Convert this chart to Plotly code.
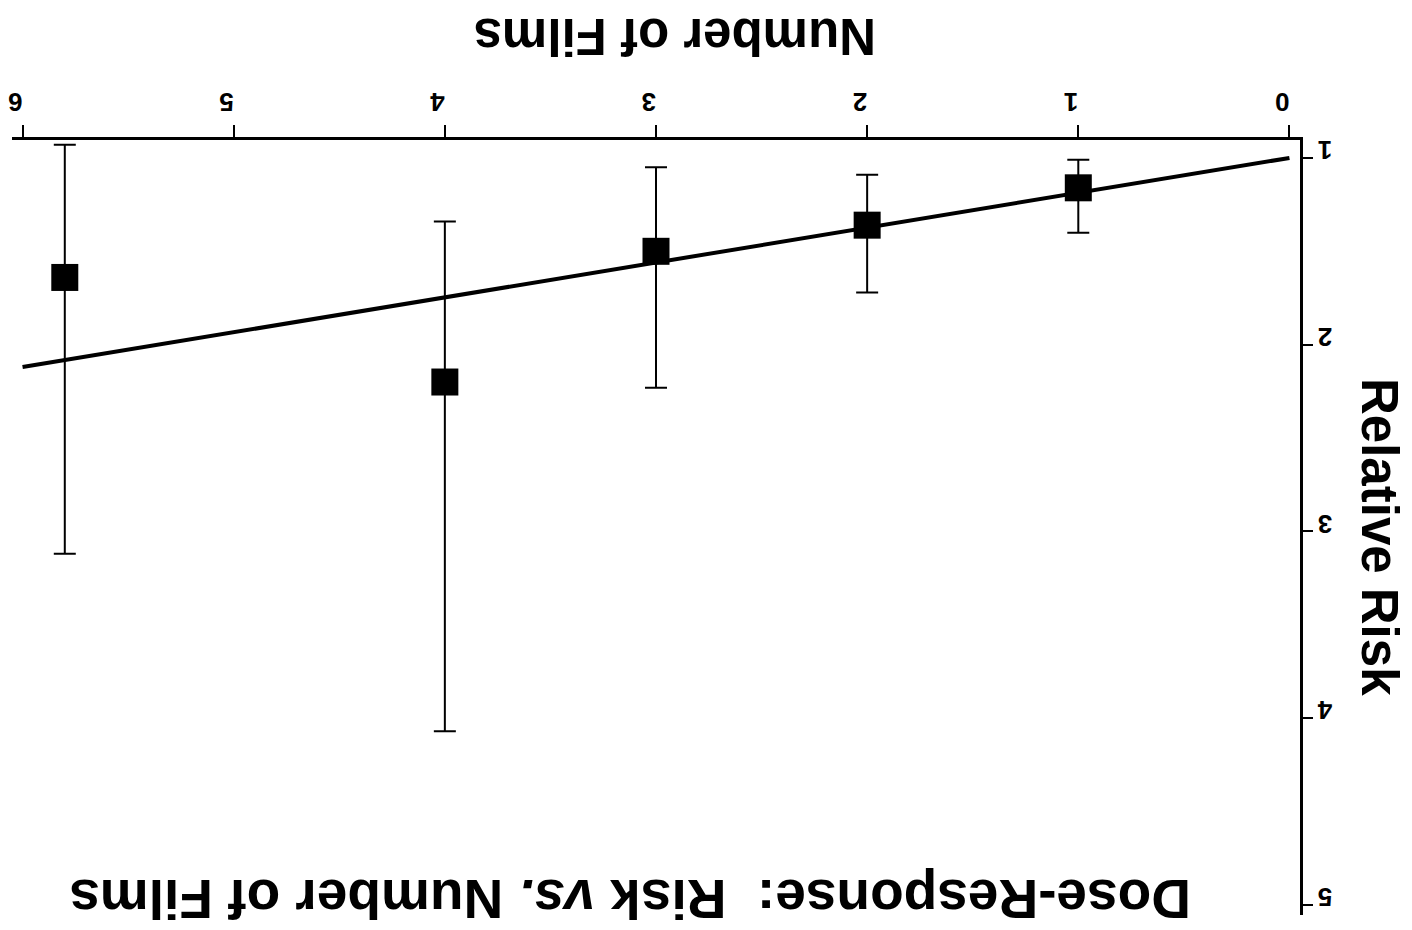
import plotly.graph_objects as go

# Data
films = [1, 2, 3, 4, 5.8]
risk = [1.16, 1.36, 1.50, 2.20, 1.64]
ci_low = [1.01, 1.09, 1.05, 1.34, 0.93]
ci_high = [1.40, 1.72, 2.23, 4.07, 3.12]
fit_x = [0, 6]
fit_y = [1.0, 2.12]
x_ticks = [0, 1, 2, 3, 4, 5, 6]
y_ticks = [1, 2, 3, 4, 5]

err_plus = [h - r for h, r in zip(ci_high, risk)]
err_minus = [r - l for r, l in zip(risk, ci_low)]

fig = go.Figure()
fig.add_trace(go.Scatter(
    x=fit_x, y=fit_y, mode="lines",
    line=dict(color="black", width=4), showlegend=False, hoverinfo="skip"))
fig.add_trace(go.Scatter(
    x=films, y=risk, mode="markers",
    marker=dict(symbol="square", size=27, color="black"),
    error_y=dict(type="data", symmetric=False, array=err_plus, arrayminus=err_minus,
                 color="black", thickness=2, width=11),
    showlegend=False))

W, H = 1412, 930
OFF = 8  # page body offset
# plot area in page pixels: x 12..1300, y 140..915
ml, mt = 12 - OFF, 140 - OFF
mr = W - (1300 - OFF)
mb = H - (915 - OFF)
pw, ph = W - ml - mr, H - mt - mb

def px(x):
    return (x - OFF - ml) / pw

def py(y):
    return (H - mb - (y - OFF)) / ph

tick_font = dict(family="Liberation Sans", size=26, color="black", weight="bold")

fig.update_layout(
    width=W, height=H,
    margin=dict(l=ml, r=mr, t=mt, b=mb, autoexpand=False),
    paper_bgcolor="white", plot_bgcolor="white",
    xaxis=dict(range=[6.05, -0.05], side="top", tickvals=x_ticks, automargin=False,
               showgrid=False, zeroline=False, showline=True, linecolor="black",
               linewidth=3, ticks="outside", ticklen=12, tickwidth=2, tickcolor="black",
               tickangle=180, tickfont=tick_font, ticklabeloverflow="allow",
               ticklabelstandoff=-4),
    yaxis=dict(range=[5.054, 0.904], side="right", tickvals=y_ticks, automargin=False,
               showgrid=False, zeroline=False, showline=True, linecolor="black",
               linewidth=3, ticks="outside", ticklen=10, tickwidth=2, tickcolor="black",
               tickangle=180, tickfont=tick_font, ticklabeloverflow="allow",
               ticklabelstandoff=14),
    annotations=[
        dict(text="<b>Number of Films</b>", x=px(675), y=py(36), xref="paper", yref="paper",
             xanchor="center", yanchor="middle",
             showarrow=False, textangle=180,
             font=dict(family="Liberation Sans", size=51, color="black")),
        dict(text="<b>Relative Risk</b>", x=px(1380), y=py(537), xref="paper", yref="paper",
             xanchor="center", yanchor="middle",
             showarrow=False, textangle=90,
             font=dict(family="Liberation Sans", size=51, color="black")),
        dict(text="<b>Dose-Response:&nbsp; Risk <i>vs.</i> Number of Films</b>",
             x=px(630), y=py(899), xref="paper", yref="paper",
             xanchor="center", yanchor="middle",
             showarrow=False, textangle=180,
             font=dict(family="Liberation Sans", size=55, color="black")),
    ],
)

fig.write_html("out.html")
